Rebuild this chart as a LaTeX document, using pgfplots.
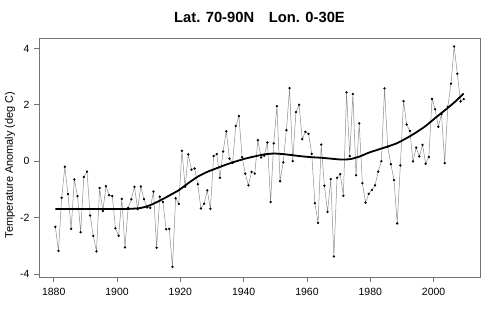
\documentclass[border=0pt]{standalone}
\usepackage{pgfplots}
\pgfplotsset{compat=1.18}
\usepackage{pgfplotstable}
\usepackage{fontspec}
\setmainfont{Liberation Sans}
\pgfplotstableread{
yr v
1880 -2.33
1881 -3.18
1882 -1.30
1883 -0.20
1884 -1.17
1885 -2.40
1886 -0.65
1887 -1.24
1888 -2.52
1889 -0.56
1890 -0.37
1891 -1.93
1892 -2.65
1893 -3.20
1894 -0.95
1895 -1.77
1896 -0.89
1897 -1.21
1898 -1.24
1899 -2.38
1900 -2.65
1901 -1.34
1902 -3.06
1903 -1.66
1904 -1.35
1905 -0.91
1906 -1.70
1907 -0.90
1908 -1.35
1909 -1.64
1910 -1.66
1911 -1.08
1912 -3.07
1913 -1.26
1914 -1.45
1915 -2.42
1916 -2.40
1917 -3.75
1918 -1.32
1919 -1.52
1920 0.37
1921 -0.91
1922 0.24
1923 -0.30
1924 -0.26
1925 -0.82
1926 -1.68
1927 -1.51
1928 -1.04
1929 -1.69
1930 0.18
1931 0.25
1932 -0.59
1933 0.34
1934 1.06
1935 0.09
1936 -0.06
1937 1.25
1938 1.60
1939 0.14
1940 -0.44
1941 -0.86
1942 -0.38
1943 -0.44
1944 0.74
1945 0.13
1946 0.20
1947 0.66
1948 -1.45
1949 0.63
1950 1.95
1951 -0.71
1952 -0.04
1953 1.10
1954 2.59
1955 0.00
1956 1.74
1957 2.00
1958 0.78
1959 1.04
1960 0.97
1961 0.26
1962 -1.49
1963 -2.19
1964 0.59
1965 -0.87
1966 -1.80
1967 -0.64
1968 -3.38
1969 -0.59
1970 -0.46
1971 -1.23
1972 2.44
1973 0.18
1974 2.38
1975 -0.50
1976 1.34
1977 -0.78
1978 -1.47
1979 -1.16
1980 -1.02
1981 -0.86
1982 -0.37
1983 0.00
1984 2.58
1985 0.51
1986 -0.11
1987 -0.67
1988 -2.21
1989 -0.15
1990 2.13
1991 1.30
1992 1.07
1993 -0.01
1994 0.48
1995 0.17
1996 0.58
1997 -0.09
1998 0.15
1999 2.21
2000 1.84
2001 1.22
2002 1.67
2003 -0.07
2004 1.93
2005 2.75
2006 4.07
2007 3.10
2008 2.12
2009 2.20
}\anomaly
\pgfplotstableread{
yr v
1880 -1.70
1885 -1.70
1890 -1.70
1895 -1.70
1900 -1.70
1904 -1.69
1907 -1.66
1910 -1.56
1913 -1.40
1916 -1.22
1919 -1.03
1922 -0.78
1925 -0.55
1928 -0.38
1931 -0.25
1934 -0.12
1937 -0.01
1940 0.09
1943 0.17
1946 0.24
1949 0.27
1952 0.25
1955 0.21
1958 0.17
1961 0.14
1964 0.12
1967 0.09
1970 0.06
1973 0.07
1976 0.16
1979 0.30
1982 0.41
1985 0.52
1988 0.64
1991 0.82
1994 1.02
1997 1.25
2000 1.53
2003 1.80
2006 2.08
2009 2.40
}\smoothed
\begin{document}
\begin{tikzpicture}
\path[use as bounding box] (0,0) rectangle (500bp,325bp);
\begin{axis}[
  at={(39bp,48bp)}, anchor=south west,
  scale only axis, width=441bp, height=239bp,
  xmin=1875.34, xmax=2014.66, ymin=-4.11, ymax=4.37,
  xtick={1880,1900,...,2000}, ytick={-4,-2,0,2,4},
  xtick pos=bottom, ytick pos=left,
  tick align=outside, major tick length=5bp,
  axis line style={black!55, line width=0.6bp},
  tick style={black!55, line width=0.6bp},
  ticklabel style={font=\fontsize{10.5}{12}\selectfont, text=black},
  /pgf/number format/assume math mode=true,
  /pgf/number format/1000 sep={},
  xticklabel style={yshift=-3bp},
  yticklabel style={xshift=-1bp},
  clip=false,
]
\addplot[black!45, line width=0.5bp, mark=*, mark size=0.9bp,
  mark options={fill=black, draw=black}]
  table[x expr=\thisrow{yr}+0.5, y=v] {\anomaly};
\addplot[black, line width=1.8bp, smooth, tension=0.4]
  table[x expr=\thisrow{yr}+0.5, y=v] {\smoothed};
\end{axis}
\node[font=\bfseries\fontsize{14.8}{17}\selectfont] at (259.5bp,308bp) {Lat. 70-90N\hspace{1em}Lon. 0-30E};
\node[font=\fontsize{11}{13}\selectfont, rotate=90] at (10bp,160bp) {Temperature Anomaly (deg C)};
\end{tikzpicture}
\end{document}
